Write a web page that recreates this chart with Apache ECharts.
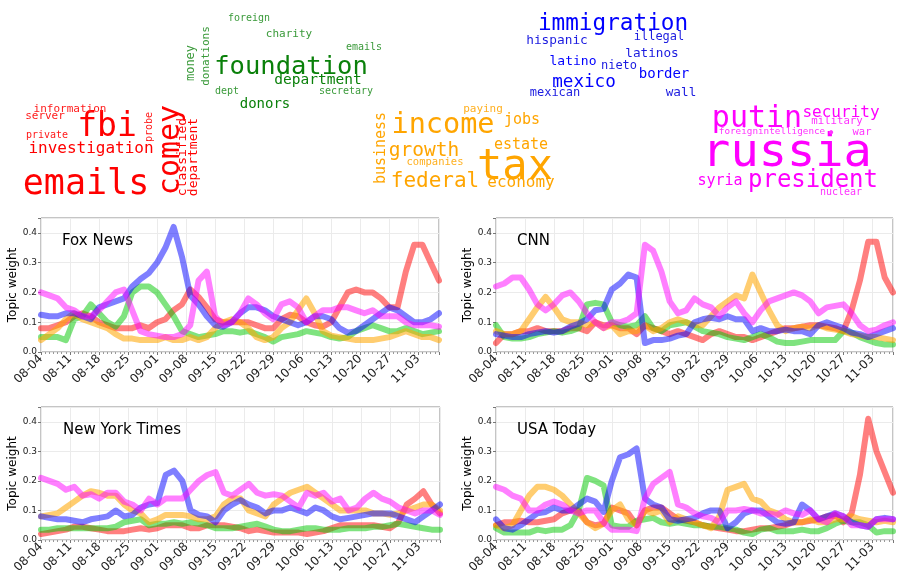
<!DOCTYPE html>
<html>
<head>
<meta charset="utf-8">
<script src="https://cdn.jsdelivr.net/npm/echarts@6/dist/echarts.min.js"></script>
<style>
  html, body { margin: 0; padding: 0; background: #fff; }
  #main { width: 898px; height: 579px; }
</style>
</head>
<body>
<div id="main"></div>
<script>
// sample days (0 = 08-04), every second day up to 11-08
const days = [0,2,4,6,8,10,12,14,16,18,20,22,24,26,28,30,32,34,36,38,40,42,44,46,48,
  50,52,54,56,58,60,62,64,66,68,70,72,74,76,78,80,82,84,86,88,90,92,94,96];
const tickLabels = ['08-04','08-11','08-18','08-25','09-01','09-08','09-15',
  '09-22','09-29','10-06','10-13','10-20','10-27','11-03'];
const panelNames = ['Fox News', 'CNN', 'New York Times', 'USA Today'];

// topic weights per outlet: emails (red), foundation (green), tax (orange), immigration (blue), russia (magenta)
const foxRed = [0.08,0.08,0.09,0.1,0.12,0.13,0.12,0.1,0.09,0.08,0.08,0.08,0.09,0.08,0.1,0.11,0.14,0.16,0.21,0.185,
  0.15,0.11,0.1,0.1,0.1,0.1,0.09,0.08,0.08,0.11,0.125,0.12,0.1,0.09,0.085,0.1,0.15,0.2,0.21,0.2,
  0.2,0.18,0.15,0.15,0.27,0.36,0.36,0.3,0.24];
const foxGreen = [0.05,0.05,0.05,0.04,0.11,0.12,0.16,0.13,0.1,0.085,0.12,0.2,0.22,0.22,0.2,0.16,0.12,0.07,0.06,0.05,
  0.055,0.06,0.07,0.07,0.065,0.07,0.06,0.05,0.035,0.05,0.055,0.06,0.07,0.065,0.06,0.05,0.045,0.05,0.07,0.08,
  0.09,0.08,0.07,0.07,0.08,0.07,0.06,0.065,0.07];
const foxOrange = [0.04,0.06,0.08,0.11,0.13,0.11,0.1,0.09,0.08,0.06,0.045,0.045,0.04,0.04,0.04,0.05,0.04,0.04,0.05,0.04,
  0.05,0.08,0.1,0.11,0.1,0.08,0.05,0.04,0.05,0.08,0.1,0.14,0.18,0.13,0.07,0.055,0.05,0.045,0.04,0.04,
  0.04,0.045,0.05,0.06,0.07,0.06,0.05,0.05,0.04];
const foxBlue = [0.125,0.12,0.12,0.13,0.13,0.12,0.11,0.15,0.16,0.17,0.18,0.22,0.245,0.265,0.3,0.35,0.42,0.32,0.19,0.16,
  0.12,0.09,0.085,0.1,0.13,0.15,0.15,0.14,0.12,0.11,0.1,0.09,0.1,0.12,0.12,0.11,0.08,0.065,0.07,0.09,
  0.11,0.13,0.15,0.14,0.12,0.1,0.1,0.11,0.13];
const foxMagenta = [0.2,0.19,0.18,0.15,0.14,0.12,0.12,0.14,0.17,0.2,0.21,0.14,0.07,0.06,0.055,0.05,0.05,0.06,0.09,0.24,
  0.27,0.12,0.09,0.1,0.13,0.18,0.16,0.13,0.11,0.16,0.17,0.15,0.1,0.12,0.14,0.14,0.15,0.15,0.14,0.13,
  0.14,0.12,0.12,0.12,0.1,0.09,0.09,0.09,0.085];

const cnnRed = [0.03,0.06,0.06,0.07,0.07,0.08,0.07,0.07,0.07,0.08,0.08,0.07,0.1,0.09,0.09,0.08,0.08,0.06,0.09,0.08,
  0.07,0.06,0.07,0.06,0.05,0.04,0.06,0.07,0.06,0.05,0.05,0.04,0.05,0.06,0.07,0.08,0.08,0.085,0.09,0.09,
  0.085,0.08,0.07,0.14,0.24,0.37,0.37,0.25,0.2];
const cnnGreen = [0.09,0.05,0.045,0.045,0.05,0.06,0.065,0.07,0.065,0.07,0.08,0.16,0.165,0.16,0.1,0.09,0.085,0.09,0.12,0.08,
  0.07,0.09,0.095,0.1,0.085,0.07,0.065,0.06,0.05,0.045,0.04,0.05,0.06,0.05,0.035,0.03,0.03,0.035,0.04,0.04,
  0.04,0.04,0.07,0.065,0.05,0.04,0.03,0.025,0.025];
const cnnOrange = [0.07,0.06,0.06,0.07,0.11,0.15,0.185,0.15,0.11,0.1,0.1,0.09,0.1,0.08,0.09,0.06,0.07,0.07,0.09,0.07,
  0.08,0.1,0.11,0.1,0.09,0.09,0.12,0.15,0.17,0.19,0.18,0.26,0.2,0.14,0.09,0.07,0.08,0.085,0.08,0.09,
  0.08,0.075,0.07,0.06,0.055,0.05,0.05,0.045,0.04];
const cnnBlue = [0.06,0.055,0.05,0.05,0.06,0.065,0.07,0.065,0.07,0.085,0.095,0.11,0.14,0.145,0.21,0.23,0.26,0.25,0.03,0.04,
  0.04,0.045,0.055,0.06,0.1,0.11,0.115,0.11,0.12,0.11,0.11,0.07,0.08,0.07,0.07,0.075,0.07,0.07,0.06,0.09,
  0.1,0.09,0.08,0.065,0.06,0.05,0.06,0.07,0.08];
const cnnMagenta = [0.22,0.23,0.25,0.25,0.21,0.16,0.14,0.16,0.19,0.2,0.17,0.13,0.1,0.08,0.1,0.1,0.11,0.13,0.36,0.34,
  0.27,0.17,0.13,0.14,0.18,0.16,0.15,0.12,0.15,0.17,0.13,0.1,0.14,0.17,0.18,0.19,0.2,0.19,0.17,0.13,
  0.15,0.155,0.16,0.13,0.09,0.07,0.075,0.09,0.1];

const nytRed = [0.02,0.025,0.03,0.035,0.045,0.045,0.04,0.035,0.03,0.03,0.03,0.035,0.04,0.035,0.04,0.05,0.05,0.05,0.04,0.04,
  0.05,0.05,0.05,0.045,0.04,0.03,0.035,0.03,0.025,0.025,0.025,0.025,0.02,0.025,0.03,0.04,0.05,0.05,0.05,0.05,
  0.05,0.045,0.04,0.06,0.12,0.14,0.165,0.12,0.09];
const nytGreen = [0.035,0.035,0.04,0.04,0.04,0.04,0.04,0.04,0.04,0.045,0.06,0.065,0.07,0.05,0.055,0.055,0.06,0.055,0.06,0.055,
  0.05,0.04,0.04,0.04,0.045,0.05,0.055,0.045,0.035,0.03,0.03,0.035,0.04,0.04,0.035,0.035,0.035,0.04,0.04,0.04,
  0.045,0.045,0.05,0.055,0.05,0.045,0.04,0.035,0.035];
const nytOrange = [0.08,0.085,0.09,0.11,0.13,0.15,0.165,0.16,0.15,0.15,0.12,0.1,0.09,0.06,0.07,0.085,0.085,0.085,0.08,0.07,
  0.07,0.08,0.12,0.14,0.14,0.1,0.09,0.08,0.12,0.14,0.16,0.17,0.18,0.16,0.14,0.12,0.1,0.1,0.1,0.1,
  0.09,0.09,0.085,0.09,0.1,0.11,0.12,0.12,0.1];
const nytBlue = [0.08,0.075,0.07,0.07,0.065,0.06,0.07,0.075,0.08,0.1,0.08,0.085,0.11,0.12,0.125,0.22,0.235,0.2,0.1,0.085,
  0.08,0.06,0.1,0.12,0.135,0.12,0.11,0.09,0.1,0.1,0.11,0.1,0.09,0.11,0.1,0.08,0.07,0.075,0.08,0.085,
  0.09,0.09,0.09,0.08,0.07,0.06,0.08,0.1,0.12];
const nytMagenta = [0.21,0.2,0.19,0.17,0.18,0.15,0.155,0.14,0.16,0.16,0.13,0.12,0.1,0.14,0.12,0.14,0.14,0.14,0.17,0.2,
  0.22,0.23,0.16,0.15,0.17,0.19,0.16,0.15,0.155,0.15,0.13,0.11,0.16,0.15,0.16,0.13,0.14,0.1,0.11,0.14,
  0.16,0.14,0.13,0.11,0.1,0.09,0.1,0.1,0.085];

const usaRed = [0.05,0.06,0.06,0.065,0.06,0.06,0.065,0.07,0.09,0.1,0.1,0.06,0.05,0.055,0.11,0.1,0.09,0.05,0.1,0.11,
  0.11,0.09,0.07,0.065,0.06,0.05,0.045,0.04,0.035,0.03,0.03,0.035,0.04,0.04,0.045,0.05,0.06,0.06,0.065,0.07,
  0.08,0.085,0.06,0.09,0.22,0.41,0.3,0.23,0.16];
const usaGreen = [0.04,0.025,0.025,0.025,0.025,0.035,0.03,0.035,0.035,0.05,0.1,0.21,0.2,0.185,0.05,0.045,0.045,0.065,0.07,0.075,
  0.06,0.055,0.06,0.055,0.05,0.05,0.045,0.045,0.04,0.035,0.025,0.02,0.035,0.04,0.03,0.03,0.03,0.035,0.03,0.03,
  0.04,0.055,0.065,0.06,0.06,0.05,0.025,0.03,0.03];
const usaOrange = [0.05,0.04,0.05,0.1,0.15,0.18,0.18,0.17,0.15,0.12,0.09,0.06,0.04,0.055,0.1,0.12,0.07,0.05,0.1,0.09,
  0.1,0.06,0.08,0.07,0.06,0.05,0.04,0.08,0.17,0.18,0.19,0.14,0.13,0.1,0.09,0.07,0.06,0.06,0.07,0.06,
  0.06,0.07,0.07,0.08,0.07,0.065,0.06,0.065,0.06];
const usaBlue = [0.07,0.04,0.035,0.05,0.07,0.09,0.095,0.11,0.1,0.1,0.12,0.14,0.13,0.095,0.2,0.28,0.29,0.31,0.14,0.12,
  0.11,0.07,0.065,0.07,0.075,0.09,0.1,0.1,0.04,0.06,0.09,0.1,0.1,0.08,0.06,0.055,0.06,0.12,0.1,0.07,
  0.08,0.09,0.08,0.06,0.05,0.045,0.07,0.075,0.07];
const usaMagenta = [0.18,0.17,0.15,0.14,0.1,0.1,0.12,0.13,0.12,0.1,0.09,0.1,0.1,0.06,0.035,0.035,0.035,0.03,0.14,0.19,
  0.21,0.23,0.12,0.11,0.09,0.08,0.075,0.06,0.1,0.1,0.105,0.1,0.09,0.09,0.085,0.1,0.09,0.085,0.1,0.07,
  0.06,0.09,0.08,0.05,0.05,0.045,0.07,0.07,0.07];

// word clouds: words and weights per topic
const redWords = ['emails','fbi','comey','investigation','department','classified','information','server','private','probe'];
const redWeights = [35,33,30,16,13,13,11,11,10,10];
const greenWords = ['foundation','department','donors','money','donations','charity','foreign','emails','dept','secretary'];
const greenWeights = [25.5,14.5,14,12,11,11,10,10,10,10];
const orangeWords = ['tax','income','federal','growth','economy','jobs','estate','business','paying','companies'];
const orangeWeights = [42,28.5,21,19.5,16,15,15,15,11,10.5];
const blueWords = ['immigration','mexico','border','latino','hispanic','latinos','wall','illegal','nieto','mexican'];
const blueWeights = [22.7,17.6,14,13,12.8,12.7,12.7,12,12,12];
const magentaWords = ['russia','putin','president','security','syria','military','war','nuclear','foreignintelligence','\u25CF'];
const magentaWeights = [47,30,24,16,15,10.7,10.5,10,9.3,7];

// placement of each word: [centerX, centerY, vertical]
const redLayout = [[86,185,0],[107,127,0],[171,150,1],[91,149,0],[194,157,1],[183,157,1],[70,109,0],[45,116,0],[47,135,0],[149,127,1]];
const greenLayout = [[291,67,0],[318,80,0],[265,104,0],[191,63,1],[206,56,1],[289,34,0],[249,18,0],[364,47,0],[227,91,0],[346,91,0]];
const orangeLayout = [[515,168,0],[443,126,0],[435,182,0],[424,151,0],[521,183,0],[522,120,0],[521,145,0],[381,148,1],[483,109,0],[435,162,0]];
const blueLayout = [[613,24,0],[584,82,0],[664,74,0],[573,62,0],[557,41,0],[652,54,0],[681,93,0],[659,37,0],[619,66,0],[555,93,0]];
const magentaLayout = [[787,154,0],[757,119,0],[813,181,0],[841,113,0],[720,181,0],[837,121,0],[862,132,0],[841,192,0],[772,132,0],[831,132,0]];

const topicColors = ['rgba(255,0,0,0.5)', 'rgba(0,200,0,0.5)', 'rgba(255,165,0,0.56)', 'rgba(0,0,255,0.5)', 'rgba(255,0,255,0.5)'];

const panelSeries = [
  [foxRed, foxGreen, foxOrange, foxBlue, foxMagenta],
  [cnnRed, cnnGreen, cnnOrange, cnnBlue, cnnMagenta],
  [nytRed, nytGreen, nytOrange, nytBlue, nytMagenta],
  [usaRed, usaGreen, usaOrange, usaBlue, usaMagenta]
];

const grids = [
  { left: 41, top: 218, width: 398, height: 134 },
  { left: 496, top: 218, width: 397, height: 134 },
  { left: 41, top: 407, width: 399, height: 133 },
  { left: 496, top: 407, width: 397, height: 133 }
];
const titlePos = [[62, 234], [517, 234], [63, 423], [517, 423]];

function cloud(words, weights, layout, color, lightColor) {
  return words.map((w, i) => {
    const [x, y, vert] = layout[i];
    return {
      type: 'text', x, y,
      rotation: vert ? Math.PI / 2 : 0,
      silent: true,
      style: {
        text: w,
        fontSize: weights[i],
        fontFamily: '"DejaVu Sans Mono", monospace',
        fill: weights[i] < 13 ? lightColor : color,
        align: 'center',
        verticalAlign: 'middle'
      }
    };
  });
}

const graphic = [].concat(
  cloud(redWords, redWeights, redLayout, '#ff0000', '#ff1a1a'),
  cloud(greenWords, greenWeights, greenLayout, '#0a800a', '#3a9a3a'),
  cloud(orangeWords, orangeWeights, orangeLayout, '#ffa500', '#ffb020'),
  cloud(blueWords, blueWeights, blueLayout, '#0000ff', '#1c1ce0'),
  cloud(magentaWords, magentaWeights, magentaLayout, '#ff00ff', '#ff33ff')
);

const font = '"DejaVu Sans", sans-serif';

const option = {
  animation: false,
  backgroundColor: '#fff',
  title: panelNames.map((n, i) => ({
    text: n, left: titlePos[i][0], top: titlePos[i][1], padding: 0,
    textStyle: { fontSize: 15, fontWeight: 'normal', fontFamily: font, color: '#000' }
  })),
  grid: grids.map(g => Object.assign({ show: true, borderColor: '#8a8a8a', borderWidth: 1, containLabel: false }, g)),
  xAxis: grids.map((g, i) => ({
    type: 'value', gridIndex: i, min: 0, max: 96, interval: 7,
    axisLine: { show: false },
    axisTick: { show: true, length: 3, lineStyle: { color: '#777' } },
    minorTick: { show: true, splitNumber: 7, length: 2, lineStyle: { color: '#999' } },
    splitLine: { show: true, lineStyle: { color: '#ebebeb', width: 1 } },
    axisLabel: {
      rotate: 45, margin: 5, fontSize: 12, fontFamily: font, color: '#222',
      showMaxLabel: false,
      formatter: v => (v % 7 === 0 && tickLabels[v / 7]) ? tickLabels[v / 7] : ''
    }
  })),
  yAxis: grids.map((g, i) => ({
    type: 'value', gridIndex: i, min: 0, max: 0.45, interval: 0.1,
    name: 'Topic weight', nameLocation: 'middle', nameGap: 20,
    nameTextStyle: { fontSize: 12, fontFamily: font, color: '#000' },
    axisLine: { show: false },
    axisTick: { show: true, length: 3, lineStyle: { color: '#777' } },
    splitLine: { show: true, lineStyle: { color: '#ebebeb', width: 1 } },
    axisLabel: {
      margin: 4, fontSize: 9, fontFamily: font, color: '#222',
      formatter: v => (Math.abs(v * 10 - Math.round(v * 10)) < 1e-6 ? v.toFixed(1) : '')
    }
  })),
  series: panelSeries.flatMap((list, p) => list.map((vals, t) => ({
    type: 'line', xAxisIndex: p, yAxisIndex: p,
    symbol: 'none', silent: true,
    data: days.map((d, k) => [d, vals[k]]),
    lineStyle: { width: 6, color: topicColors[t], cap: 'round', join: 'round' }
  }))),
  graphic: graphic
};

const chart = echarts.init(document.getElementById('main'));
chart.setOption(option);
</script>
</body>
</html>
